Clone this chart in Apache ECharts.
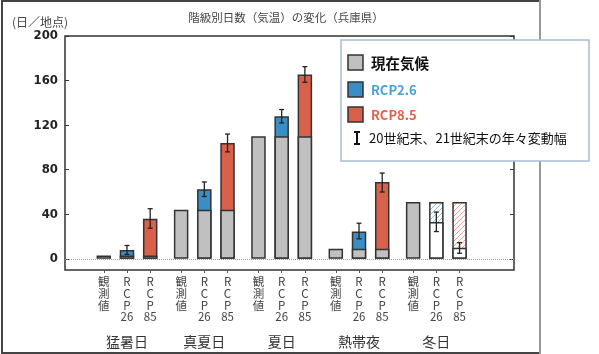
<!DOCTYPE html>
<html><head><meta charset="utf-8">
<script src="https://cdn.jsdelivr.net/npm/echarts@6/dist/echarts.min.js"></script>
<style>html,body{margin:0;padding:0;background:#fff}#c{width:599px;height:354px}</style>
</head><body><div id="c"></div>
<script>
const groups = ['猛暑日', '真夏日', '夏日', '熱帯夜', '冬日'];
const subLabels = ['観\n測\n値', 'R\nC\nP\n26', 'R\nC\nP\n85'];
const yTicks = [0, 40, 80, 120, 160, 200];
const observed = [3, 44, 110, 9, 51];
const rcp26 = [8, 62.5, 128, 24.5, 33];
const rcp85 = [36, 104, 165.5, 69, 10];
const rcp26Low = [4, 56, 122, 18, 24.5];
const rcp26High = [12, 69, 134, 32, 42];
const rcp85Low = [27.5, 96, 158.5, 60, 5];
const rcp85High = [45, 112, 172.5, 77, 14.5];
const legendNames = ['現在気候', 'RCP2.6', 'RCP8.5', '20世紀末、21世紀末の年々変動幅'];
const titleText = '階級別日数（気温）の変化（兵庫県）';
const unitText = '(日／地点)';

const GRAY = '#c0c0c0', BLUE = '#3b8dc5', RED = '#d9604b', EDGE = '#333';
const GROUP_STEP = 10 / 3;
const pos = (g, i) => g * GROUP_STEP + i - 1;
const tickPositions = [], tickNames = [];
groups.forEach((g, k) => subLabels.forEach((s, i) => { tickPositions.push(pos(k, i)); tickNames.push(s); }));
const groupCenters = groups.map((g, k) => pos(k, 1));
const labelAt = (v, arr, names) => { const idx = arr.findIndex(p => Math.abs(p - v) < 1e-6); return idx < 0 ? '' : names[idx]; };

function hatch(color) {
  const c = document.createElement('canvas'); c.width = 5; c.height = 5;
  const ctx = c.getContext('2d'); ctx.strokeStyle = color; ctx.lineWidth = 1;
  ctx.beginPath();
  ctx.moveTo(0, 5); ctx.lineTo(5, 0);
  ctx.moveTo(-1, 1); ctx.lineTo(1, -1);
  ctx.moveTo(4, 6); ctx.lineTo(6, 4);
  ctx.stroke();
  return { image: c, repeat: 'repeat' };
}
const hatchBlue = hatch('#8cc0e6'), hatchRed = hatch('#f2a595');

function topBars(fut, idx, color, hatchColor) {
  return groups.map((g, k) => ({
    value: [pos(k, idx), Math.max(observed[k], fut[k])],
    itemStyle: { color: fut[k] >= observed[k] ? color : hatchColor }
  }));
}
const baseData = [];
groups.forEach((g, k) => {
  baseData.push({ value: [pos(k, 0), observed[k]] });
  [rcp26, rcp85].forEach((fut, j) => {
    baseData.push({ value: [pos(k, j + 1), Math.min(observed[k], fut[k])],
      itemStyle: { color: fut[k] >= observed[k] ? GRAY : '#fff' } });
  });
});
const errData = [];
groups.forEach((g, k) => {
  errData.push([pos(k, 1), rcp26Low[k], rcp26High[k]]);
  errData.push([pos(k, 2), rcp85Low[k], rcp85High[k]]);
});

const barCommon = { type: 'bar', barWidth: 14.5, barGap: '-100%', xAxisIndex: 0, yAxisIndex: 0,
  itemStyle: { borderColor: EDGE, borderWidth: 1.5 }, silent: true };

const FONT = '"Noto Sans CJK JP", "Noto Sans", sans-serif';
const lx = 341, ly = 40;
const hiddenLine = { show: false, onZero: false };
const option = {
  animation: false,
  grid: { left: 65, top: 36, width: 449, height: 234, show: true, borderColor: '#333', borderWidth: 1.5, backgroundColor: 'transparent' },
  xAxis: [
    { type: 'value', min: -2.672, max: 16.68, position: 'bottom',
      axisLine: hiddenLine, splitLine: { show: false },
      axisTick: { show: true, customValues: tickPositions, length: 3, lineStyle: { color: '#555' } },
      axisLabel: { customValues: tickPositions, formatter: v => labelAt(v, tickPositions, tickNames),
        color: '#444', fontSize: 11.5, lineHeight: 11.7, margin: 6, fontFamily: FONT } },
    { type: 'value', min: -2.672, max: 16.68, position: 'bottom',
      axisLine: hiddenLine, splitLine: { show: false }, axisTick: { show: false },
      axisLabel: { customValues: groupCenters, formatter: v => labelAt(v, groupCenters, groups),
        color: '#333', fontSize: 14, margin: 65, fontFamily: FONT } }
  ],
  yAxis: [
    { type: 'value', min: -10, max: 200, position: 'left',
      axisLine: hiddenLine, splitLine: { show: false },
      axisTick: { show: true, inside: true, length: 4, customValues: yTicks, lineStyle: { color: '#333' } },
      axisLabel: { customValues: yTicks, color: '#222', fontSize: 13, margin: 7, fontWeight: 'bold',
        fontFamily: '"Liberation Sans Narrow", "DejaVu Sans Condensed", sans-serif' } },
    { type: 'value', min: -10, max: 200, position: 'right',
      axisLine: hiddenLine, splitLine: { show: false },
      axisTick: { show: true, inside: true, length: 4, customValues: yTicks, lineStyle: { color: '#333' } },
      axisLabel: { show: false } }
  ],
  series: [
    Object.assign({}, barCommon, { name: 'RCP2.6', data: topBars(rcp26, 1, BLUE, hatchBlue) }),
    Object.assign({}, barCommon, { name: 'RCP8.5', data: topBars(rcp85, 2, RED, hatchRed) }),
    Object.assign({}, barCommon, { name: '現在気候', data: baseData, itemStyle: { color: GRAY, borderColor: EDGE, borderWidth: 1.5 },
      markLine: { silent: true, symbol: 'none', label: { show: false }, z: 1,
        lineStyle: { type: 'dotted', color: '#999', width: 1 }, data: [{ yAxis: 0 }] } }),
    { type: 'custom', name: legendNames[3], xAxisIndex: 0, yAxisIndex: 0, z: 5, silent: true,
      encode: { x: 0, y: [1, 2] }, data: errData,
      renderItem: (params, api) => {
        const x = api.value(0), lo = api.value(1), hi = api.value(2);
        const p1 = api.coord([x, lo]), p2 = api.coord([x, hi]);
        const hw = 2.5, style = { stroke: '#222', lineWidth: 1.3 };
        return { type: 'group', children: [
          { type: 'line', shape: { x1: p1[0], y1: p1[1], x2: p2[0], y2: p2[1] }, style },
          { type: 'line', shape: { x1: p1[0] - hw, y1: p1[1], x2: p1[0] + hw, y2: p1[1] }, style },
          { type: 'line', shape: { x1: p2[0] - hw, y1: p2[1], x2: p2[0] + hw, y2: p2[1] }, style }
        ] };
      } }
  ],
  graphic: [
    { type: 'line', z: 50, shape: { x1: 2, y1: 1, x2: 540, y2: 1 }, style: { stroke: '#444', lineWidth: 2 } },
    { type: 'line', z: 50, shape: { x1: 2, y1: 0, x2: 2, y2: 354 }, style: { stroke: '#444', lineWidth: 2 } },
    { type: 'line', z: 50, shape: { x1: 2, y1: 353, x2: 541, y2: 353 }, style: { stroke: '#444', lineWidth: 2 } },
    { type: 'line', z: 50, shape: { x1: 540, y1: 0, x2: 540, y2: 354 }, style: { stroke: '#999', lineWidth: 2 } },
    { type: 'text', z: 50, x: 286, y: 18, style: { text: titleText, fill: '#444', font: '11.5px ' + FONT, textAlign: 'center', textVerticalAlign: 'middle' } },
    { type: 'text', z: 50, x: 12, y: 22, style: { text: unitText, fill: '#444', font: '12px ' + FONT, textAlign: 'left', textVerticalAlign: 'middle' } },
    { type: 'rect', z: 100, shape: { x: lx, y: ly, width: 248, height: 121 }, style: { fill: '#fff', stroke: '#a9bdd2', lineWidth: 1.5 } },
    { type: 'rect', z: 101, shape: { x: 348, y: 55, width: 15, height: 15 }, style: { fill: GRAY, stroke: EDGE, lineWidth: 1.5 } },
    { type: 'rect', z: 101, shape: { x: 348, y: 82, width: 15, height: 15 }, style: { fill: BLUE, stroke: EDGE, lineWidth: 1.5 } },
    { type: 'rect', z: 101, shape: { x: 348, y: 107, width: 15, height: 15 }, style: { fill: RED, stroke: EDGE, lineWidth: 1.5 } },
    { type: 'text', z: 101, x: 371, y: 63, style: { text: legendNames[0], fill: '#111', font: 'bold 14.5px ' + FONT, textVerticalAlign: 'middle' } },
    { type: 'text', z: 101, x: 371, y: 90, style: { text: legendNames[1], fill: '#4a9fd8', font: 'bold 13px ' + FONT, textVerticalAlign: 'middle' } },
    { type: 'text', z: 101, x: 371, y: 115, style: { text: legendNames[2], fill: '#e0614c', font: 'bold 13px ' + FONT, textVerticalAlign: 'middle' } },
    { type: 'line', z: 101, shape: { x1: 357, y1: 132, x2: 357, y2: 144 }, style: { stroke: '#111', lineWidth: 2 } },
    { type: 'line', z: 101, shape: { x1: 354, y1: 132, x2: 360, y2: 132 }, style: { stroke: '#111', lineWidth: 2 } },
    { type: 'line', z: 101, shape: { x1: 354, y1: 144, x2: 360, y2: 144 }, style: { stroke: '#111', lineWidth: 2 } },
    { type: 'text', z: 101, x: 369, y: 138, style: { text: legendNames[3], fill: '#111', font: '13px ' + FONT, textVerticalAlign: 'middle' } }
  ]
};
const chart = echarts.init(document.getElementById('c'), null, { renderer: 'canvas' });
chart.setOption(option);
</script>
</body></html>
